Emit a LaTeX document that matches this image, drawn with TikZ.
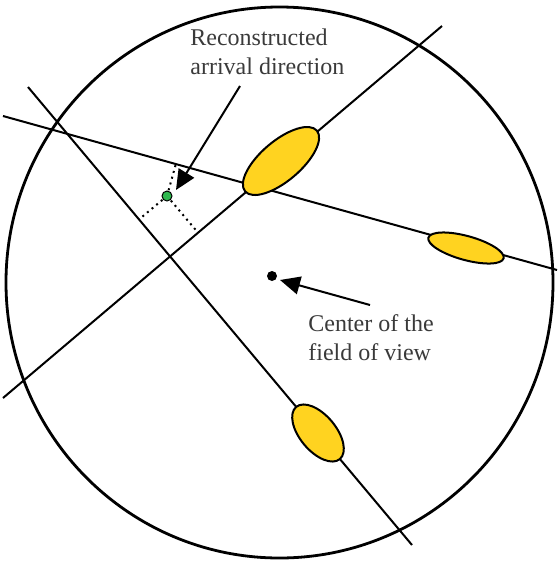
\documentclass[tikz,border=0pt]{standalone}
\usepackage{fontspec}
\setmainfont{Liberation Serif}
\usetikzlibrary{arrows.meta,calc}
\definecolor{blobfill}{HTML}{FFD320}
\definecolor{dotgreen}{HTML}{2EB84E}
\definecolor{txtgray}{HTML}{3A3A3A}
\tikzset{
  track/.style={line width=1.0pt},
  blob/.style={draw=black, line width=1.0pt, fill=blobfill},
  perp/.style={line width=1.0pt, dotted},
  pointer/.style={line width=1.0pt, -{Triangle[length=10pt,width=9pt]}},
  lbl/.style={font=\fontsize{12}{14.5}\selectfont, text=txtgray, align=left, inner sep=0pt, anchor=north west}
}
\begin{document}
\begin{tikzpicture}[x=0.5pt,y=-0.5pt]
\useasboundingbox (0,0) rectangle (558,563);
% field of view
\draw[line width=1.4pt] (279.5,282.5) ellipse [x radius=273.5, y radius=275.5];
% track lines
\coordinate (a1) at (3,398);   \coordinate (a2) at (442,26);
\coordinate (b1) at (3,116);   \coordinate (b2) at (557,270);
\coordinate (c1) at (28,87);   \coordinate (c2) at (412,545);
\draw[track] (a1) -- (a2);
\draw[track] (b1) -- (b2);
\draw[track] (c1) -- (c2);
% images (ellipses)
\draw[blob, rotate around={40.3:(281,161)}] (281,161) ellipse [x radius=47, y radius=20];
\draw[blob, rotate around={-15.4:(466,248)}] (466,248) ellipse [x radius=39, y radius=12];
\draw[blob, rotate around={-50.1:(318,433)}] (318,433) ellipse [x radius=34, y radius=18];
% reconstructed direction
\coordinate (g) at (167,196);
\draw[perp] (g) -- ($(a1)!(g)!(a2)$);
\draw[perp] (g) -- ($(b1)!(g)!(b2)$);
\draw[perp] (g) -- ($(c1)!(g)!(c2)$);
\node[circle, draw=black, line width=0.5pt, fill=dotgreen, minimum size=5pt, inner sep=0pt] (gp) at (g) {};
% center of FOV
\node[circle, fill=black, minimum size=5pt, inner sep=0pt] (cfov) at (272,276) {};
% labels
\node[lbl] (l1) at (190,28) {Reconstructed\\arrival direction};
\node[lbl] (l2) at (308,314) {Center of the\\field of view};
\coordinate (p1) at (240,86);
\coordinate (p2) at (370,305);
\draw[pointer] (p1) -- (176,190);
\draw[pointer] (p2) -- (280,280);
\end{tikzpicture}
\end{document}
